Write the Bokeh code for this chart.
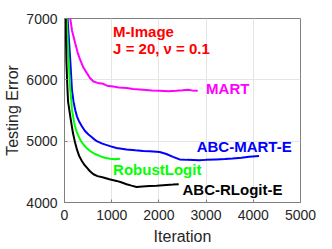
from bokeh.plotting import figure
from bokeh.models import Label, FixedTicker
from bokeh.embed import file_html
from bokeh.resources import INLINE

# ---- data ----
mart_iter = [100, 122, 160, 227, 280, 333, 400, 474, 540, 613, 700, 823, 900, 1034, 1150,
             1316, 1450, 1665, 1850, 2017, 2200, 2368, 2500, 2613, 2700, 2823]
mart_err = [7300, 7000, 6800, 6595, 6440, 6324, 6200, 6109, 6030, 5973, 5950, 5935, 5905, 5891, 5875,
            5865, 5850, 5838, 5825, 5822, 5815, 5822, 5830, 5838, 5828, 5822]

blue_iter = [50, 65, 90, 122, 158, 192, 230, 263, 310, 368, 430, 508, 600, 684, 800, 964, 1100,
             1316, 1500, 1665, 1806, 2017, 2158, 2300, 2438, 2600, 2859, 3000, 3211, 3400, 3560,
             3750, 3912, 4122]
blue_err = [7300, 7000, 6700, 6324, 5838, 5640, 5500, 5405, 5320, 5243, 5170, 5109, 5050, 5000, 4960,
            4919, 4890, 4865, 4850, 4838, 4835, 4822, 4790, 4745, 4703, 4695, 4687, 4695, 4703,
            4710, 4719, 4730, 4746, 4757]

green_iter = [30, 48, 87, 122, 143, 158, 206, 250, 297, 350, 402, 470, 543, 650, 754, 850, 964,
              1070, 1175]
green_err = [7400, 7000, 6324, 5838, 5676, 5514, 5298, 5170, 5081, 5000, 4946, 4885, 4838, 4790,
             4757, 4730, 4715, 4705, 4715]

black_iter = [10, 25, 40, 60, 75, 122, 178, 220, 263, 310, 368, 420, 474, 540, 613, 700, 823, 950,
              1105, 1200, 1316, 1420, 1526, 1650, 1806, 1950, 2158, 2300, 2420]
black_err = [7500, 7000, 6300, 5900, 5650, 5405, 5136, 4990, 4865, 4760, 4676, 4615, 4568, 4510,
             4460, 4430, 4407, 4380, 4352, 4330, 4298, 4275, 4254, 4262, 4270, 4275, 4287, 4292, 4298]

x_ticks = [0, 1000, 2000, 3000, 4000, 5000]
y_ticks = [4000, 5000, 6000, 7000]

FONT = "Liberation Sans"
AX = "#808080"
TXT = "#262626"

p = figure(width=332, height=249, x_range=(0, 5000), y_range=(4000, 7000),
           output_backend="svg", toolbar_location=None,
           min_border_left=64, min_border_right=32, min_border_top=18, min_border_bottom=47,
           x_axis_label="Iteration", y_axis_label="Testing Error")
p.background_fill_color = "white"
p.border_fill_color = "white"
p.outline_line_color = AX
p.outline_line_width = 1

for ax, ticks in ((p.xaxis[0], x_ticks), (p.yaxis[0], y_ticks)):
    ax.ticker = FixedTicker(ticks=ticks)
    ax.minor_tick_line_color = None
    ax.major_tick_in = 3
    ax.major_tick_out = 0
    ax.axis_line_color = AX
    ax.major_tick_line_color = AX
    ax.major_label_text_font = FONT
    ax.major_label_text_font_size = "14px"
    ax.major_label_text_color = TXT
    ax.axis_label_text_font = FONT
    ax.axis_label_text_font_size = "16px"
    ax.axis_label_text_font_style = "normal"
    ax.axis_label_text_color = TXT

p.xaxis.major_label_standoff = 7
p.xaxis.axis_label_standoff = 5
p.yaxis.major_label_standoff = 7
p.yaxis.axis_label_standoff = 2

p.xgrid.ticker = FixedTicker(ticks=x_ticks)
p.ygrid.ticker = FixedTicker(ticks=y_ticks)
p.grid.grid_line_color = "#e5e5e5"
p.grid.grid_line_width = 1

p.line(mart_iter, mart_err, line_color="#ff00ff", line_width=2)
p.line(blue_iter, blue_err, line_color="#0000ff", line_width=2)
p.line(green_iter, green_err, line_color="#00ff00", line_width=2)
p.line(black_iter, black_err, line_color="#000000", line_width=2)

def lab(x, y, t, c):
    p.add_layout(Label(x=x, y=y, text=t, text_color=c, text_font=FONT,
                       text_font_size="15px", text_font_style="bold",
                       text_baseline="middle", text_align="left"))

lab(3000, 5854, "MART", "#ff00ff")
lab(2800, 4920, "ABC-MART-E", "#0000ff")
lab(1030, 4540, "RobustLogit", "#00ff00")
lab(2500, 4215, "ABC-RLogit-E", "#000000")
lab(1030, 6783, "M-Image", "#ff0000")
lab(1030, 6514, "J = 20, ν = 0.1", "#ff0000")

open("out.html", "w").write(file_html(p, INLINE))
